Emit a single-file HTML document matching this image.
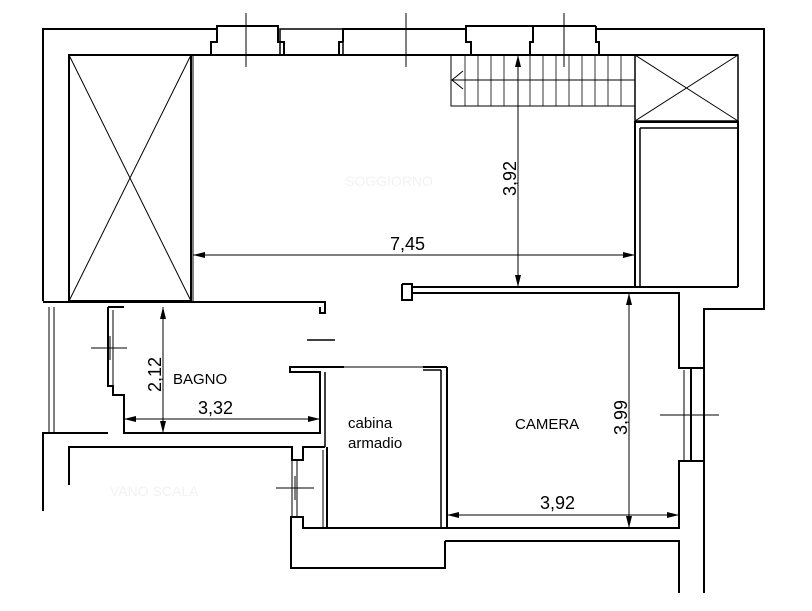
<!DOCTYPE html>
<html><head><style>html,body{margin:0;padding:0;background:#fff}svg{display:block}</style></head><body>
<svg width="812" height="611" viewBox="0 0 812 611" xmlns="http://www.w3.org/2000/svg" font-family="Liberation Sans, sans-serif">
<g fill="none" stroke="#000" stroke-width="2">
<!-- outer top/left -->
<polyline points="217,29 43,29 43,301"/>
<polyline points="597,29 764,29 764,309 704,309 704,593"/>
<line x1="69" y1="55" x2="738" y2="55"/>
<!-- windows top -->
<polyline points="217,29 217,26 278,26 278,29"/>
<polyline points="211,55 211,42 217,42 217,29"/>
<polyline points="278,29 278,42 284,42 284,55"/>
<polyline points="284,55 284,42 280,42"/>
<rect x="280" y="29" width="63" height="26" stroke-width="1.5"/>
<polyline points="343,42 343,29 466,29 466,42 471,42 471,55"/>
<polyline points="343,42 339,42 339,55"/>
<polyline points="466,29 466,26 533,26 533,29"/>
<polyline points="533,29 533,42 530,42 530,55"/>
<polyline points="596,29 596,26"/>
<polyline points="596,29 596,42 599,42 599,55"/>
<polyline points="533,26 596,26"/>
<!-- left X box -->
<rect x="69" y="55" width="122" height="246"/>
<line x1="193" y1="55" x2="193" y2="301" stroke-width="1"/>
<polyline points="43,302 325,302 325,313 320,313 320,307"/>
<!-- right -->
<rect x="635" y="55" width="103" height="66" stroke-width="1.5"/>
<polyline points="635,287 635,122 738,122 738,287"/>
<line x1="640" y1="128" x2="640" y2="287" stroke-width="1.5"/>
<line x1="640" y1="128" x2="738" y2="128" stroke-width="1.5"/>
<line x1="424" y1="287" x2="738" y2="287"/>
<polyline points="402,284 412,284 412,287 424,287"/>
<polyline points="412,287 412,300 402,300 402,284"/>
<polyline points="412,293 679,293 679,368 691,368 691,461 679,461 679,528 447,528"/>
<polyline points="691,368 704,368 M691,461 704,461"/>
<line x1="691" y1="368" x2="704" y2="368"/>
<line x1="691" y1="461" x2="704" y2="461"/>
<line x1="684" y1="370" x2="684" y2="460" stroke-width="1"/>
<polyline points="445,541 679,541 679,593"/>
<polyline points="445,541 445,568 291,568 291,517 303,517 303,528 447,528"/>
<!-- closet -->
<line x1="441" y1="370" x2="441" y2="528" stroke-width="1.5"/>
<line x1="447" y1="367" x2="447" y2="528"/>
<polyline points="344,367 290,367 290,372 320,372 320,433 124,433 124,395 113,395 113,386 108,386 108,307"/>
<line x1="108" y1="307" x2="124" y2="307"/>
<line x1="325" y1="372" x2="325" y2="447" stroke-width="1.5"/>
<line x1="325" y1="367" x2="423" y2="367" stroke-width="1"/>
<polyline points="423,367 447,367"/>
<line x1="423" y1="370" x2="441" y2="370" stroke-width="1.5"/>
<line x1="113" y1="310" x2="113" y2="386" stroke-width="1"/>
<line x1="49" y1="307" x2="49" y2="433" stroke-width="1"/>
<line x1="54" y1="307" x2="54" y2="433" stroke-width="1"/>
<polyline points="43,511 43,433 108,433"/>
<polyline points="69,485 69,447 292,447 292,460 303,460 303,447 325,447"/>
<line x1="292" y1="460" x2="292" y2="517" stroke-width="1"/>
<line x1="297" y1="460" x2="297" y2="517" stroke-width="1"/>
<line x1="323" y1="450" x2="323" y2="528" stroke-width="1"/>
<line x1="327" y1="447" x2="327" y2="528"/>
<line x1="307" y1="340" x2="335" y2="340" stroke-width="1.5"/>
</g>
<g stroke="#000" stroke-width="1" fill="none">
<line x1="69" y1="55" x2="191" y2="301"/><line x1="191" y1="55" x2="69" y2="301"/>
<line x1="635" y1="55" x2="738" y2="121"/><line x1="738" y1="55" x2="635" y2="121"/>
<!-- stairs -->
<polyline points="635,55 635,106 451,106 451,55"/>
<g stroke-width="0.8">
<line x1="465" y1="55" x2="465" y2="106"/><line x1="478" y1="55" x2="478" y2="106"/><line x1="491" y1="55" x2="491" y2="106"/><line x1="504" y1="55" x2="504" y2="106"/><line x1="530" y1="55" x2="530" y2="106"/><line x1="543" y1="55" x2="543" y2="106"/><line x1="556" y1="55" x2="556" y2="106"/><line x1="569" y1="55" x2="569" y2="106"/><line x1="582" y1="55" x2="582" y2="106"/><line x1="595" y1="55" x2="595" y2="106"/><line x1="608" y1="55" x2="608" y2="106"/><line x1="621" y1="55" x2="621" y2="106"/>
</g>
<line x1="451" y1="80" x2="635" y2="80"/>
<polyline points="463,71 452,80 463,89"/>
<!-- window crosses -->
<line x1="246" y1="13" x2="246" y2="67"/>
<line x1="406" y1="13" x2="406" y2="67"/>
<line x1="564" y1="13" x2="564" y2="67"/>
<line x1="91" y1="348" x2="127" y2="348"/>
<line x1="110" y1="336" x2="110" y2="360"/>
<line x1="276" y1="488" x2="314" y2="488"/>
<line x1="295" y1="476" x2="295" y2="500"/>
<line x1="660" y1="415" x2="719" y2="415"/>
<line x1="691" y1="403" x2="691" y2="427"/>
<!-- dims -->
<line x1="518" y1="55" x2="518" y2="287"/>
<line x1="193" y1="255" x2="635" y2="255"/>
<line x1="629" y1="293" x2="629" y2="528"/>
<line x1="447" y1="515" x2="679" y2="515"/>
<line x1="163" y1="307" x2="163" y2="433"/>
<line x1="124" y1="419" x2="320" y2="419"/>
</g>
<g fill="#000">
<polygon points="518,55 515,67 521,67"/><polygon points="518,287 515,275 521,275"/>
<polygon points="193,255 205,252 205,258"/><polygon points="635,255 623,252 623,258"/>
<polygon points="629,293 626,305 632,305"/><polygon points="629,528 626,516 632,516"/>
<polygon points="447,515 459,512 459,518"/><polygon points="679,515 667,512 667,518"/>
<polygon points="163,307 160,319 166,319"/><polygon points="163,433 160,421 166,421"/>
<polygon points="124,419 136,416 136,422"/><polygon points="320,419 308,416 308,422"/>
</g>
<g font-size="18" fill="#000">
<text x="390" y="250">7,45</text>
<text transform="translate(516,196) rotate(-90)">3,92</text>
<text transform="translate(627,435) rotate(-90)">3,99</text>
<text transform="translate(161,392) rotate(-90)">2,12</text>
<text x="198" y="414">3,32</text>
<text x="540" y="509">3,92</text>
</g>
<g font-size="15" fill="#000">
<text x="173" y="384">BAGNO</text>
<text x="515" y="429">CAMERA</text>
<text x="348" y="428">cabina</text>
<text x="348" y="448">armadio</text>
</g>
<g font-size="14" fill="#f2f2f2">
<text x="345" y="186">SOGGIORNO</text>
<text x="110" y="496">VANO SCALA</text>
</g>
</svg>
</body></html>
